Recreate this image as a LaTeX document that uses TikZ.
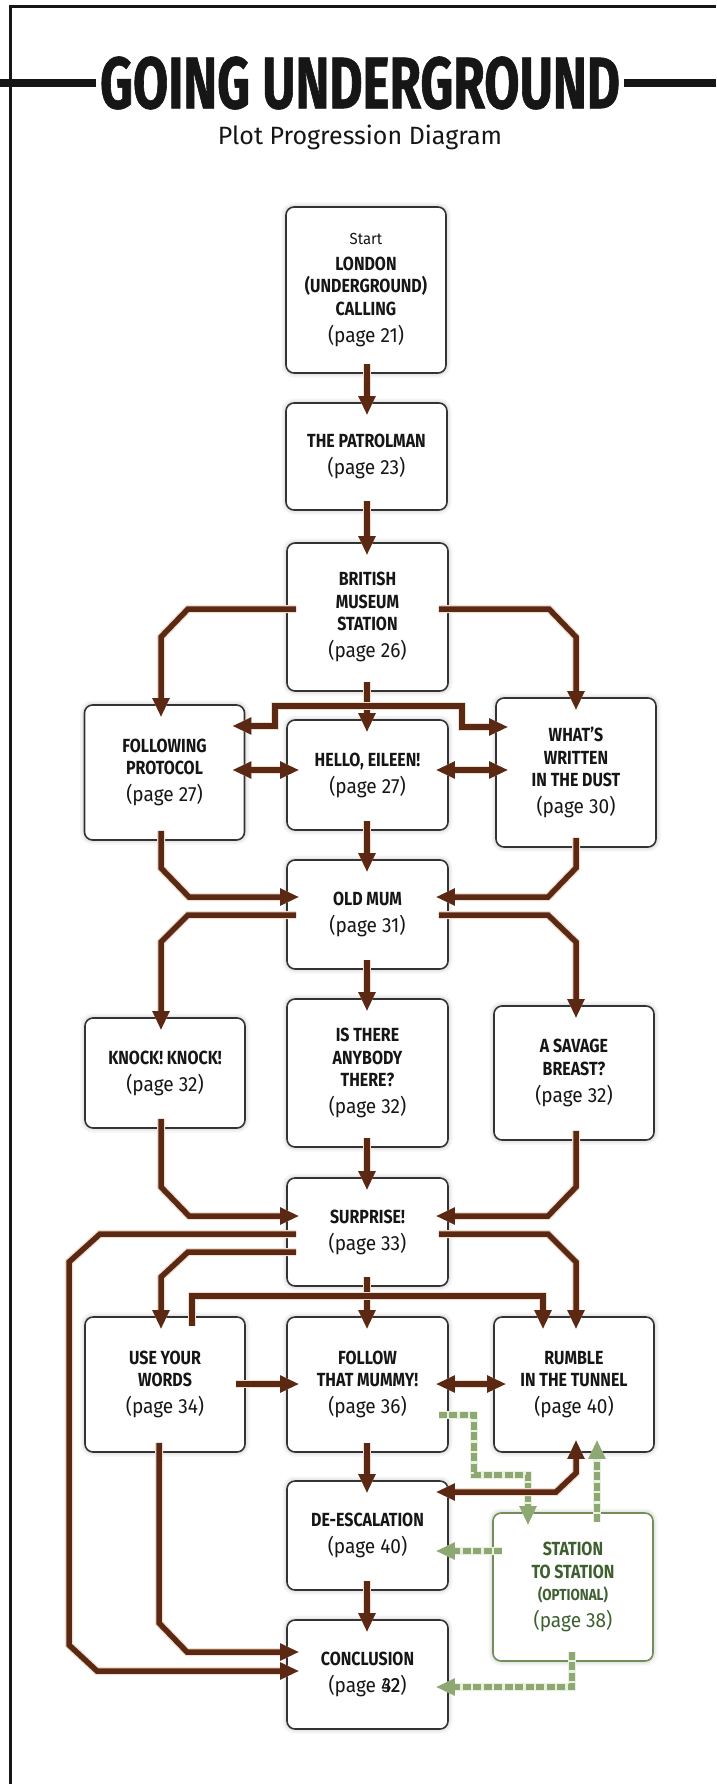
\documentclass[tikz,border=0pt]{standalone}
\usepackage{fontspec}
\setmainfont{Fira Sans}
\newfontfamily\titlefont{Fira Sans}[FakeStretch=0.70, FakeBold=0.8]
\newfontfamily\hdfont{Fira Sans}[FakeStretch=0.84]
\newfontfamily\pagefont{Fira Sans}[FakeStretch=0.93]
\usetikzlibrary{arrows.meta}

\definecolor{ink}{HTML}{161616}
\definecolor{boxline}{HTML}{333333}
\definecolor{tube}{HTML}{5B2913}
\definecolor{tubehalo}{HTML}{F1DCCD}
\definecolor{opt}{HTML}{8DA872}
\definecolor{opthalo}{HTML}{EAF0DE}
\definecolor{optdark}{HTML}{3E6030}
\definecolor{optline}{HTML}{6F8E58}

% heading lines and page references inside the boxes
\newcommand{\hd}{\hdfont\bfseries\fontsize{19}{22.5}\selectfont}
\newcommand{\pgtext}{\pagefont\mdseries\fontsize{20.5}{22.5}\selectfont}
\newcommand{\pg}[1]{\\[4.5pt]{\pgtext (page #1)}}

\tikzset{
  box/.style={rectangle, rounded corners=8pt, draw=boxline, line width=1.6pt, fill=white,
    align=center, inner sep=0pt, text=ink, font=\hd, minimum width=161pt,
    preaction={draw=black!4, line width=9pt},
    preaction={draw=black!9, line width=5pt}},
  optbox/.style={box, draw=optline, text=optdark},
  brtip/.tip={Triangle[length=19pt,width=16pt]},
  conn/.style={draw=tube, line width=5.5pt, line join=miter, -brtip,
    shorten <=-10pt, shorten >=-13pt,
    preaction={draw=tubehalo, line width=8pt}},
  conntwo/.style={conn, brtip-brtip, shorten <=-13pt},
  optconn/.style={draw=opt, line width=5.5pt, line join=miter, -brtip,
    dash pattern=on 8pt off 2.5pt, shorten <=-10pt, shorten >=-13pt,
    preaction={draw=opthalo, line width=8pt, solid}},
}

\begin{document}
\begin{tikzpicture}[x=1pt, y=-1pt]
\useasboundingbox[fill=white] (0,0) rectangle (716,1784);

% outer frame
\coordinate (frameBL) at (10.5,1784);
\coordinate (frameTL) at (10.5,7);
\coordinate (frameTR) at (716,7);
\draw[ink, line width=3pt, line join=miter] (frameBL) -- (frameTL) -- (frameTR);

% title with side bars
\node[font=\titlefont\bfseries\fontsize{73}{73}\selectfont, text=ink, inner xsep=4pt, inner ysep=0pt]
  (title) at (360,83) {GOING UNDERGROUND};
\coordinate (barL) at (0,83);
\coordinate (barR) at (716,83);
\draw[ink, line width=8pt] (barL) -- (title.west);
\draw[ink, line width=8pt] (title.east) -- (barR);
\node[font=\fontsize{25}{25}\selectfont, text=ink, anchor=base, inner sep=0pt]
  (subtitle) at (360,145) {Plot Progression Diagram};

% scenes
\node[box, minimum width=160pt, minimum height=166pt] (start) at (366,290)
  {{\pagefont\mdseries\fontsize{16}{22}\selectfont Start}\\[3pt]LONDON\\(UNDERGROUND)\\CALLING\pg{21}};
\node[box, minimum height=107pt] (patrol) at (366.5,456.5) {THE PATROLMAN\pg{23}};
\node[box, minimum height=148pt] (bm) at (367.5,617) {BRITISH\\MUSEUM\\STATION\pg{26}};
\node[box, minimum width=160pt, minimum height=135pt] (fol) at (164.5,772.5) {FOLLOWING\\PROTOCOL\pg{27}};
\node[box, minimum height=110pt] (hello) at (367.5,775) {HELLO, EILEEN!\pg{27}};
\node[box, minimum width=160pt, minimum height=149pt] (dust) at (576,772.5) {WHAT’S\\WRITTEN\\IN THE DUST\pg{30}};
\node[box, minimum height=109pt] (mum) at (367.5,914.5) {OLD MUM\pg{31}};
\node[box, minimum width=160pt, minimum height=110pt] (knock) at (165,1073) {KNOCK! KNOCK!\pg{32}};
\node[box, minimum height=148pt] (anybody) at (367.5,1073) {IS THERE\\ANYBODY\\THERE?\pg{32}};
\node[box, minimum width=160pt, minimum height=134pt] (savage) at (574,1073) {A SAVAGE\\BREAST?\pg{32}};
\node[box, minimum height=108pt] (surprise) at (367.5,1232) {SURPRISE!\pg{33}};
\node[box, minimum width=160pt, minimum height=135pt] (words) at (165,1384.5) {USE YOUR\\WORDS\pg{34}};
\node[box, minimum height=135pt] (mummy) at (367.5,1384.5) {FOLLOW\\THAT MUMMY!\pg{36}};
\node[box, minimum width=160pt, minimum height=135pt] (rumble) at (574,1384.5) {RUMBLE\\IN THE TUNNEL\pg{40}};
\node[box, minimum height=109pt] (deesc) at (367.5,1535.5) {DE-ESCALATION\pg{40}};
\node[optbox, minimum width=160pt, minimum height=148pt] (station) at (573,1587)
  {STATION\\TO STATION\\{\fontsize{16}{20}\selectfont (OPTIONAL)}\pg{38}};
\node[box, minimum height=109pt] (concl) at (367.5,1674.5)
  {CONCLUSION\\[4.5pt]{\pgtext (page \rlap{\kern0.7pt 32}42)}};

% optional route (dashed)
\draw[optconn] (mummy.east |- 0,1415) -- (474,1415) -- (474,1475) -- (528,1475) -- (528,0 |- station.north);
\draw[optconn] (597,0 |- station.north) -- (597,0 |- rumble.south);
\draw[optconn] (station.west |- 0,1551) -- (deesc.east |- 0,1551);
\draw[optconn] (572,0 |- station.south) -- (572,1687) -- (concl.east |- 0,1687);

% main route
\draw[conn] (367,0 |- start.south) -- (367,0 |- patrol.north);
\draw[conn] (367,0 |- patrol.south) -- (367,0 |- bm.north);
\draw[conn] (bm.west |- 0,609) -- (188,609) -- (161,637) -- (161,0 |- fol.north);
\draw[conn] (bm.east |- 0,609) -- (549,609) -- (576,637) -- (576,0 |- dust.north);
\draw[conn] (367,0 |- bm.south) -- (367,0 |- hello.north);
\draw[conn, shorten <=0pt] (367,706) -- (275,706) -- (275,726) -- (fol.east |- 0,726);
\draw[conn, shorten <=0pt] (367,706) -- (462,706) -- (462,727) -- (dust.west |- 0,727);
\draw[conntwo] (fol.east |- 0,770) -- (hello.west |- 0,770);
\draw[conntwo] (hello.east |- 0,770) -- (dust.west |- 0,770);
\draw[conn] (161,0 |- fol.south) -- (161,868) -- (189,897) -- (mum.west |- 0,897);
\draw[conn] (576,0 |- dust.south) -- (576,868) -- (548,897) -- (mum.east |- 0,897);
\draw[conn] (367,0 |- hello.south) -- (367,0 |- mum.north);
\draw[conn] (mum.west |- 0,915) -- (188,915) -- (161,942) -- (161,0 |- knock.north);
\draw[conn] (mum.east |- 0,915) -- (548,915) -- (576,942) -- (576,0 |- savage.north);
\draw[conn] (367,0 |- mum.south) -- (367,0 |- anybody.north);
\draw[conn] (161,0 |- knock.south) -- (161,1187) -- (189,1216) -- (surprise.west |- 0,1216);
\draw[conn] (576,0 |- savage.south) -- (576,1187) -- (548,1216) -- (surprise.east |- 0,1216);
\draw[conn] (367,0 |- anybody.south) -- (367,0 |- surprise.north);
\draw[conn] (surprise.west |- 0,1234) -- (100,1234) -- (69,1262) -- (69,1645) -- (97,1671) -- (concl.west |- 0,1671);
\draw[conn] (surprise.west |- 0,1252) -- (188,1252) -- (161,1277) -- (161,0 |- words.north);
\draw[conn] (surprise.east |- 0,1234) -- (548,1234) -- (576,1262) -- (576,0 |- rumble.north);
\draw[conn] (367,0 |- surprise.south) -- (367,0 |- mummy.north);
\draw[conn] (192,0 |- words.north) -- (192,1296) -- (543,1296) -- (543,0 |- rumble.north);
\draw[conn] (words.east |- 0,1384) -- (mummy.west |- 0,1384);
\draw[conntwo] (mummy.east |- 0,1384) -- (rumble.west |- 0,1384);
\draw[conn] (367,0 |- mummy.south) -- (367,0 |- deesc.north);
\draw[conntwo] (576,0 |- rumble.south) -- (576,1473) -- (556,1492) -- (deesc.east |- 0,1492);
\draw[conn] (367,0 |- deesc.south) -- (367,0 |- concl.north);
\draw[conn] (159,0 |- words.south) -- (159,1623) -- (187,1652) -- (concl.west |- 0,1652);
\end{tikzpicture}
\end{document}
